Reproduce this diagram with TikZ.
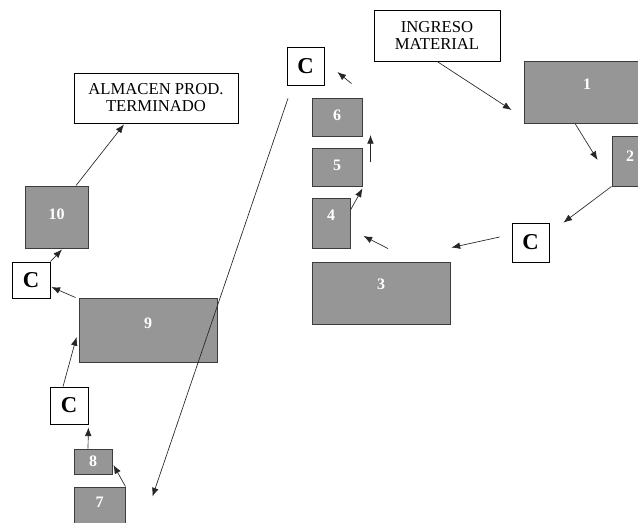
\documentclass[tikz,border=0pt]{standalone}
\usepackage{fontspec}
\setmainfont{Liberation Serif}
\usetikzlibrary{calc,arrows.meta}
\definecolor{grisfondo}{RGB}{150,150,150}
\definecolor{grisborde}{RGB}{60,60,60}
\tikzset{
 tam/.style 2 args={minimum width=#1*0.75pt,minimum height=#2*0.75pt},
 sube/.style={text depth=#1*1.5pt},
 proc/.style={draw=grisborde,fill=grisfondo,line width=0.7pt,inner sep=0pt,
   text=white,font=\fontsize{12}{13}\selectfont\bfseries},
 ctrl/.style={draw,line width=0.6pt,inner sep=0pt,font=\fontsize{17}{18}\selectfont\bfseries},
 texto/.style={draw,line width=0.6pt,inner sep=0pt,align=center,font=\fontsize{12.5}{12.8}\selectfont},
 flecha/.style={-{Latex[length=6.5pt,width=5pt]},line width=0.5pt,draw=black!85}
}
\begin{document}
\begin{tikzpicture}[x=0.75pt,y=-0.75pt]
 \clip (0,0) rectangle (638,522);
 % cajas de texto
 \node[texto,tam={126}{51}] (ing) at (437,35.5) {INGRESO\\MATERIAL};
 \node[texto,tam={164}{50}] (alm) at (156,98) {ALMACEN PROD.\\TERMINADO};
 % operaciones
 \node[proc,tam={126}{62},sube=8] (p1) at (587,92) {1};
 \node[proc,tam={36}{50},sube=5] (p2) at (630,161) {2};
 \node[proc,tam={138}{62},sube=9] (p3) at (381,293) {3};
 \node[proc,tam={38}{50},sube=8] (p4) at (331,223) {4};
 \node[proc,tam={50}{38},sube=2] (p5) at (337,167) {5};
 \node[proc,tam={50}{38},sube=2] (p6) at (337,117) {6};
 \node[proc,tam={51}{38},sube=4] (p7) at (99.5,506) {7};
 \node[proc,tam={38}{25}] (p8) at (93,461.5) {8};
 \node[proc,tam={138}{64},sube=7] (p9) at (148,330) {9};
 \node[proc,tam={63}{62},sube=3] (p10) at (56.5,217) {10};
 % controles
 \node[ctrl,tam={37}{39}] (cR) at (530.5,242.5) {C};
 \node[ctrl,tam={37}{38}] (cT) at (305.5,66) {C};
 \node[ctrl,tam={38}{36}] (cL) at (31,280) {C};
 \node[ctrl,tam={38}{37}] (cB) at (69,405.5) {C};
 % flujo
 \draw[flecha] (ing.south) -- ($(p1.west)+(-12,18)$);
 \draw[flecha] ($(p1.south)+(-12,0)$) -- ($(p2.west)+(-14,-1)$);
 \draw[flecha] (p2.south west) -- ($(cR.north east)+(14,0)$);
 \draw[flecha] ($(cR.west)+(-12,-5.5)$) -- ($(p3.north east)+(1,-14)$);
 \draw[flecha] ($(p3.north)+(7,-13)$) -- ($(p4.east)+(13,13)$);
 \draw[flecha] ($(p4.east)+(0,-13)$) -- ($(p5.south east)+(0,2)$);
 \draw[flecha] ($(p5.east)+(8,-5)$) -- ($(p6.east)+(8,18)$);
 \draw[flecha] ($(p6.north east)+(-11,-14)$) -- ($(cT.east)+(13,6)$);
 \draw[flecha] ($(cT.south)+(-17.5,13)$) -- ($(p7.north east)+(27,10)$);
 \draw[flecha] (p7.north east) -- ($(p8.east)+(1,3.5)$);
 \draw[flecha] ($(p8.north)+(-5,0)$) -- ($(cB.south east)+(0,3)$);
 \draw[flecha] ($(cB.north)+(-6,0)$) -- ($(p9.west)+(-2,7)$);
 \draw[flecha] ($(p9.north west)+(-3,0)$) -- ($(cL.east)+(1,7)$);
 \draw[flecha] (cL.north east) -- ($(p10.south)+(5.5,1)$);
 \draw[flecha] ($(p10.north)+(19.5,0)$) -- ($(alm.south)+(-32,1)$);
\end{tikzpicture}
\end{document}
